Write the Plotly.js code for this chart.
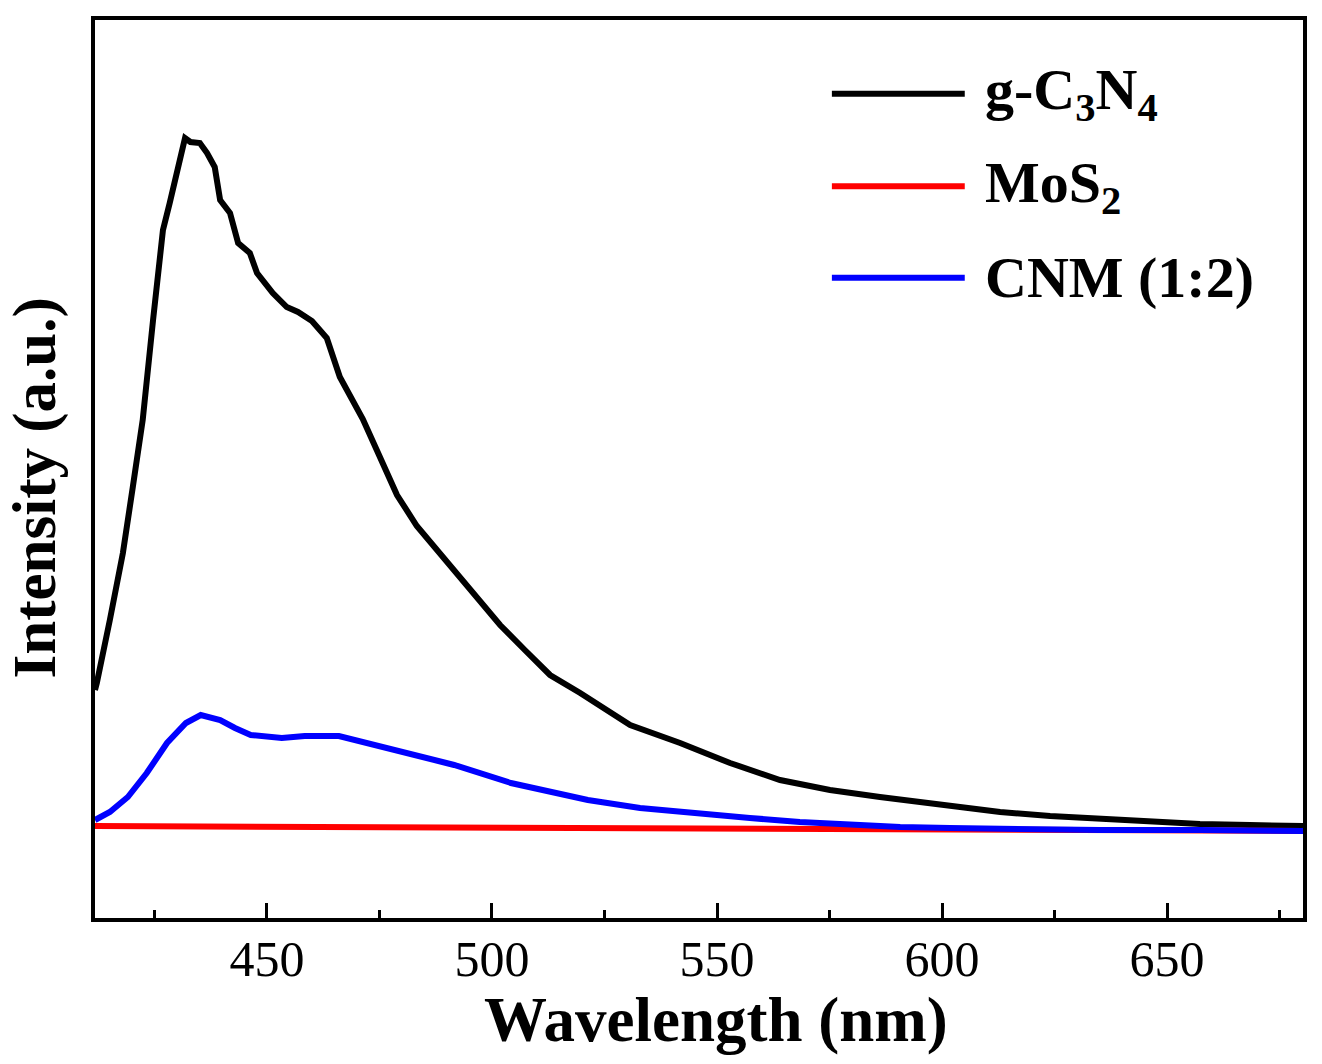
<!DOCTYPE html>
<html>
<head>
<meta charset="utf-8">
<script src="https://cdn.plot.ly/plotly-3.0.1.min.js"></script>
<style>
  html, body { margin: 0; padding: 0; background: #fff; }
  #chart { width: 1322px; height: 1064px; }
</style>
</head>
<body>
<div id="chart"></div>
<script>
// PL 스펙트럼 — 값은 그림에서 읽은 근사치(a.u.)
const FONT = '"Liberation Serif", "Times New Roman", serif';

const cnWl = [411.8, 412.2, 415.1, 418.0, 420.2, 422.4, 424.7, 425.8, 426.9, 428.4, 430.0, 431.8, 433.0,
  435.1, 436.7, 438.4, 439.6, 441.8, 443.6, 446.2, 447.8, 451.3, 454.4, 456.9, 460.0, 463.3, 466.2, 471.3,
  475.1, 478.9, 483.3, 489.1, 496.2, 501.8, 507.3, 512.9, 519.6, 530.7, 541.8, 552.9, 564.0, 575.1,
  586.2, 601.8, 612.9, 624.0, 635.1, 646.2, 657.3, 668.4, 680.2];
const cnI = [228, 235, 298, 365, 431, 498, 598, 648, 688, 715, 748, 780, 776,
  775, 765, 751, 718, 705, 675, 665, 645, 625, 611, 606, 597, 580, 541, 499,
  461, 423, 392, 361, 323, 293, 268, 243, 225, 193, 175, 155, 138, 128,
  121, 112, 106, 102, 99, 96, 94, 93, 92];

const mosWl = [411.8, 457.6, 502.0, 546.4, 590.9, 680.2];
const mosI = [92, 91, 90, 89, 88, 87];

const cnmWl = [411.8, 415.1, 419.1, 423.3, 427.8, 432.0, 435.3, 439.6, 442.9, 446.4, 453.3, 458.4, 466.0,
  472.0, 480.4, 491.6, 504.2, 512.9, 521.3, 532.9, 543.6, 557.3, 568.4, 579.6, 590.7, 601.8, 612.9,
  635.1, 657.3, 680.2];
const cnmI = [98, 106, 121, 145, 175, 195, 203, 198, 190, 183, 180, 182, 182,
  175, 165, 153, 135, 126, 118, 110, 105, 100, 96, 93, 91, 90, 89,
  88, 88, 87];

const SERIES = [
  { name: 'g-C<sub>3</sub>N<sub>4</sub>', color: '#000000', x: cnWl, y: cnI },
  { name: 'MoS<sub>2</sub>', color: '#ff0000', x: mosWl, y: mosI },
  { name: 'CNM (1:2)', color: '#0000ff', x: cnmWl, y: cnmI },
];

const traces = SERIES.map((s) => ({
  x: s.x, y: s.y, name: s.name, mode: 'lines', type: 'scatter',
  line: { color: s.color, width: 6 }, showlegend: false,
}));

// 범례: 선 + 라벨 (paper 좌표)
const LEG_Y = [0.918, 0.815, 0.713];
const shapes = SERIES.map((s, i) => ({
  type: 'line', xref: 'paper', yref: 'paper', x0: 0.61, x1: 0.72, y0: LEG_Y[i], y1: LEG_Y[i],
  line: { color: s.color, width: 6 },
}));
const annotations = SERIES.map((s, i) => ({
  xref: 'paper', yref: 'paper', x: 0.735, y: LEG_Y[i], xanchor: 'left', yanchor: 'middle',
  text: '<b>' + s.name + '</b>', showarrow: false,
  font: { family: FONT, size: 58, color: '#000' },
}));
// 축 제목은 위치 맞추려고 annotation 으로
annotations.push({
  xref: 'paper', yref: 'paper', x: -0.05, y: 0.479, xanchor: 'center', yanchor: 'middle',
  textangle: -90, text: '<b>Intensity (a.u.)</b>', showarrow: false,
  font: { family: FONT, size: 61, color: '#000' },
});
annotations.push({
  xref: 'paper', yref: 'paper', x: 0.514, y: -0.114, xanchor: 'center', yanchor: 'middle',
  text: '<b>Wavelength (nm)</b>', showarrow: false,
  font: { family: FONT, size: 63, color: '#000' },
});

const layout = {
  width: 1322, height: 1064,
  paper_bgcolor: '#fff', plot_bgcolor: '#fff',
  margin: { l: 95, r: 19, t: 20, b: 146 },
  font: { family: FONT, color: '#000' },
  showlegend: false,
  xaxis: {
    range: [411.8, 680.2], tickvals: [450, 500, 550, 600, 650],
    ticks: 'inside', ticklen: 15, tickwidth: 3, tickcolor: '#000',
    minor: { dtick: 25, tick0: 425, ticks: 'inside', ticklen: 8, tickwidth: 3, tickcolor: '#000' },
    showline: true, linewidth: 4, linecolor: '#000', mirror: true,
    showgrid: false, zeroline: false,
    tickfont: { family: FONT, size: 50, color: '#000' }, ticklabelstandoff: -6,
  },
  yaxis: {
    range: [0, 898], showticklabels: false, ticks: '',
    showline: true, linewidth: 4, linecolor: '#000', mirror: true,
    showgrid: false, zeroline: false,
  },
  shapes, annotations,
};

Plotly.newPlot('chart', traces, layout, { displayModeBar: false, staticPlot: true });
</script>
</body>
</html>
